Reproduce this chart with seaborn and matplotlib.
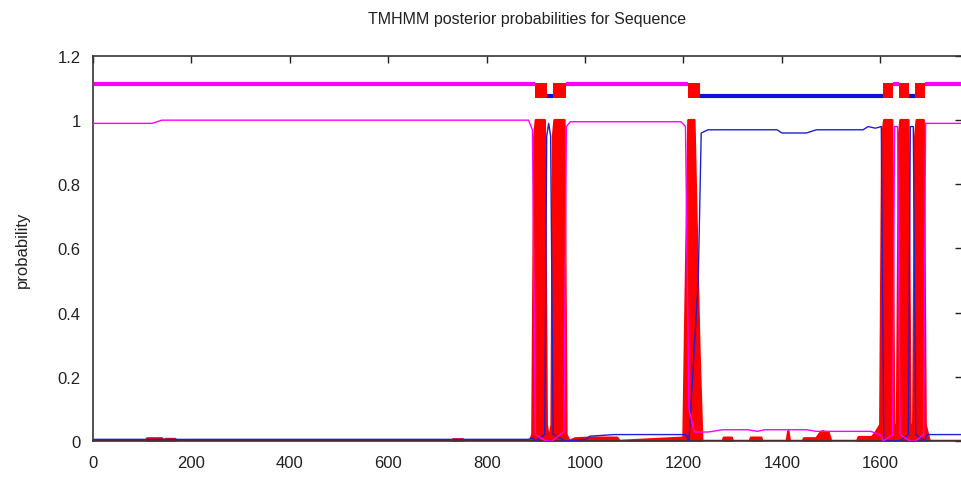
import numpy as np
import pandas as pd
import matplotlib
matplotlib.use("Agg")
import matplotlib.pyplot as plt
import seaborn as sns

# ---------------- data ----------------
seq_len = 1766

# posterior probability of "outside" (magenta)
out_pos = [1, 120, 140, 885, 893, 899, 920, 933, 957, 962, 970, 1195, 1204, 1211, 1222, 1250, 1280,
           1330, 1350, 1365, 1450, 1470, 1580, 1600, 1606, 1625, 1629, 1635, 1640, 1660, 1671, 1688,
           1692, 1766]
out_val = [0.99, 0.99, 1.0, 1.0, 0.97, 0.02, 0.0, 0.0, 0.03, 0.98, 0.995, 0.995, 0.98, 0.1, 0.028,
           0.028, 0.035, 0.035, 0.03, 0.035, 0.035, 0.03, 0.03, 0.02, 0.0, 0.02, 0.98, 0.98, 0.02,
           0.0, 0.0, 0.02, 0.99, 0.99]

# posterior probability of "inside" (blue)
in_pos = [1, 885, 893, 899, 918, 922, 926, 930, 935, 960, 1000, 1010, 1060, 1205, 1211, 1230, 1236,
          1250, 1390, 1400, 1450, 1470, 1565, 1575, 1590, 1602, 1607, 1625, 1640, 1657, 1661, 1667,
          1672, 1690, 1695, 1766]
in_val = [0.005, 0.005, 0.01, 0.0, 0.02, 0.95, 0.99, 0.95, 0.02, 0.0, 0.005, 0.015, 0.02, 0.02, 0.0,
          0.5, 0.96, 0.97, 0.97, 0.96, 0.96, 0.97, 0.97, 0.98, 0.975, 0.98, 0.0, 0.0, 0.0, 0.02, 0.98,
          0.98, 0.02, 0.0, 0.02, 0.02]

# posterior probability of transmembrane helix (red)
tm_pos = [1, 108, 110, 140, 145, 148, 167, 170, 730, 732, 752, 755, 888, 893, 897, 900, 918, 922,
          927, 932, 935, 938, 958, 962, 968, 980, 1010, 1065, 1070, 1200, 1206, 1210, 1222, 1232,
          1238, 1280, 1282, 1298, 1300, 1335, 1337, 1358, 1360, 1410, 1413, 1416, 1443, 1445, 1470,
          1478, 1482, 1495, 1500, 1553, 1556, 1583, 1590, 1600, 1604, 1608, 1624, 1628, 1634, 1638,
          1641, 1657, 1661, 1667, 1671, 1674, 1688, 1692, 1700, 1766]
tm_val = [0.0, 0.0, 0.008, 0.008, 0.0, 0.006, 0.006, 0.0, 0.0, 0.005, 0.005, 0.0, 0.0, 0.02, 0.95, 1.0,
          1.0, 0.05, 0.0, 0.05, 0.95, 1.0, 1.0, 0.02, 0.0, 0.008, 0.01, 0.01, 0.0, 0.01, 0.6, 1.0,
          1.0, 0.3, 0.0, 0.0, 0.01, 0.01, 0.0, 0.0, 0.01, 0.01, 0.0, 0.0, 0.03, 0.0, 0.0, 0.008,
          0.008, 0.025, 0.03, 0.025, 0.0, 0.0, 0.012, 0.012, 0.025, 0.05, 0.95, 1.0, 1.0, 0.05, 0.05,
          0.95, 1.0, 1.0, 0.05, 0.05, 0.95, 1.0, 1.0, 0.05, 0.0, 0.0]

# predicted topology (top bar)
helix_start = [898, 935, 1209, 1606, 1638, 1671]
helix_end = [922, 961, 1234, 1626, 1659, 1690]
outside_seg = [(1, 898), (961, 1209), (1626, 1638), (1690, 1766)]
inside_seg = [(922, 935), (1234, 1606), (1659, 1671)]

x_ticks = [0, 200, 400, 600, 800, 1000, 1200, 1400, 1600]
y_ticks = [0, 0.2, 0.4, 0.6, 0.8, 1.0, 1.2]
y_ticklabels = ["0", "0.2", "0.4", "0.6", "0.8", "1", "1.2"]

# ---------------- plotting ----------------
sns.set_theme(style="white")
plt.rcParams["font.family"] = ["Liberation Sans", "DejaVu Sans"]

fig = plt.figure(figsize=(9.62, 4.85), dpi=100)
ax = fig.add_axes([0.0967, 0.0887, 0.9033, 0.7938])

red = "#ff0000"
blue = "#2020d0"
mag = "#ff00ff"

df_tm = pd.DataFrame({"pos": tm_pos, "p": tm_val})
ax.fill_between(df_tm["pos"], 0, df_tm["p"], color=red, lw=0, zorder=2)
sns.lineplot(data=df_tm, x="pos", y="p", color=red, lw=1.8, ax=ax, zorder=2)

df_in = pd.DataFrame({"pos": in_pos, "p": in_val})
sns.lineplot(data=df_in, x="pos", y="p", color=blue, lw=1.0, ax=ax, zorder=3)

df_out = pd.DataFrame({"pos": out_pos, "p": out_val})
sns.lineplot(data=df_out, x="pos", y="p", color=mag, lw=1.0, ax=ax, zorder=3)

# topology bar
for a, b in outside_seg:
    ax.plot([a, b], [1.112, 1.112], color=mag, lw=3, solid_capstyle="butt", zorder=3)
for a, b in inside_seg:
    ax.plot([a, b], [1.074, 1.074], color="#1010d8", lw=3, solid_capstyle="butt", zorder=3)
for a, b in zip(helix_start, helix_end):
    ax.fill_between([a, b], 1.07, 1.117, color=red, lw=0, zorder=4)

ax.set_xlim(0, seq_len)
ax.set_ylim(0, 1.2)
ax.set_xticks(x_ticks)
ax.set_xticklabels([str(t) for t in x_ticks])
ax.set_yticks(y_ticks)
ax.set_yticklabels(y_ticklabels)
ax.tick_params(axis="x", pad=10)
ax.tick_params(axis="y", pad=9)
ax.tick_params(axis="both", direction="in", length=5, width=1, labelsize=12, colors="#222222",
               top=True, right=True)
for s in ax.spines.values():
    s.set_color("#333333")
    s.set_linewidth(1.2)
ax.set_xlabel("")
ax.set_ylabel("probability", fontsize=12, color="#222222", labelpad=20)
ax.set_title("TMHMM posterior probabilities for Sequence", fontsize=11.5, color="#222222", pad=24)

fig.savefig("out.png", dpi=100)
